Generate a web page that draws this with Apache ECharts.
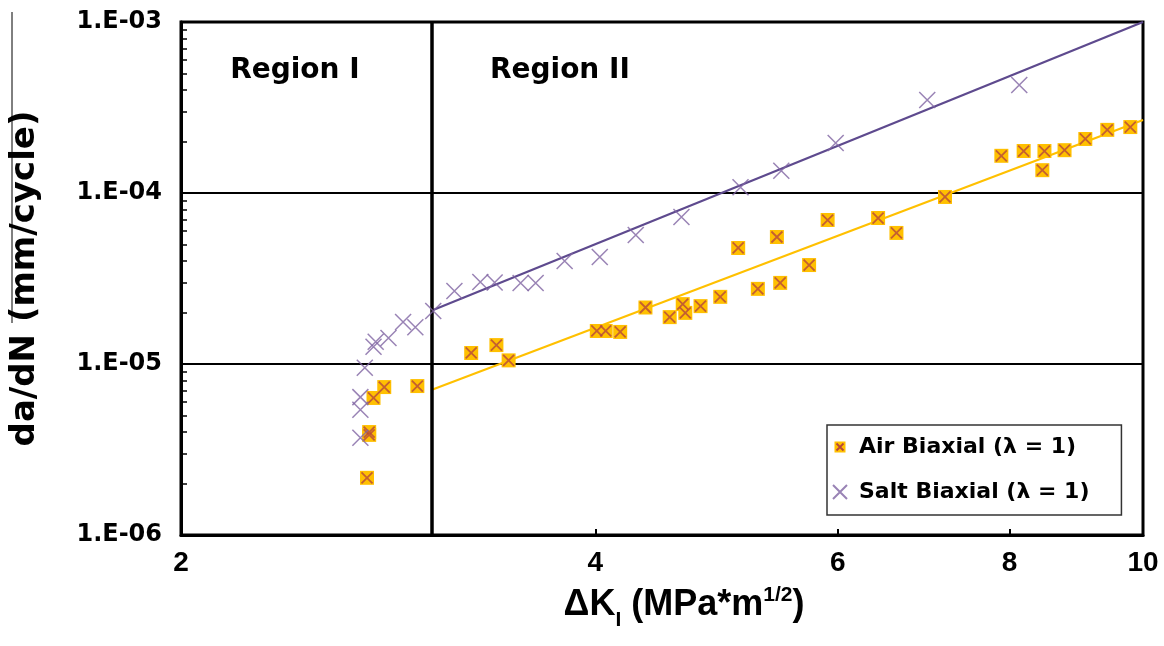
<!DOCTYPE html>
<html><head><meta charset="utf-8">
<script src="https://cdn.jsdelivr.net/npm/echarts@6/dist/echarts.min.js"></script>
<style>html,body{margin:0;padding:0;background:#fff}#chart{width:1164px;height:646px}</style>
</head><body><div id="chart"></div>
<script>
// ---- axis ticks / labels ----
const xTickValues = [2, 4, 6, 8, 10];
const xTickLabels = ['2', '4', '6', '8', '10'];
const xInnerTicks = [4, 6, 8];
const yTickValues = [1e-6, 1e-5, 1e-4, 1e-3];
const yTickLabels = ['1.E-06', '1.E-05', '1.E-04', '1.E-03'];
const yMinorMantissas = [2, 3, 4, 5, 6, 7, 8, 9];

// ---- series ----
const airName = 'Air Biaxial (\u03bb = 1)';
const saltName = 'Salt Biaxial (\u03bb = 1)';
const airDK   = [2.73, 2.74, 2.74, 2.76, 2.81, 2.97, 3.25, 3.39, 3.46, 4.01, 4.07, 4.17, 4.35, 4.53, 4.63, 4.65, 4.77, 4.93, 5.08, 5.25, 5.42, 5.45, 5.72, 5.90, 6.42, 6.62, 7.18, 7.89, 8.19, 8.45, 8.48, 8.77, 9.08, 9.42, 9.79];
const airRate = [2.16e-6, 4.0e-6, 3.85e-6, 6.33e-6, 7.33e-6, 7.43e-6, 1.16e-5, 1.29e-5, 1.05e-5, 1.56e-5, 1.56e-5, 1.54e-5, 2.14e-5, 1.88e-5, 2.24e-5, 1.99e-5, 2.18e-5, 2.47e-5, 4.77e-5, 2.75e-5, 5.53e-5, 2.98e-5, 3.79e-5, 6.95e-5, 7.14e-5, 5.84e-5, 9.48e-5, 1.65e-4, 1.76e-4, 1.36e-4, 1.76e-4, 1.78e-4, 2.07e-4, 2.34e-4, 2.43e-4];
const saltDK   = [2.70, 2.70, 2.70, 2.72, 2.76, 2.77, 2.83, 2.90, 2.96, 3.05, 3.16, 3.30, 3.38, 3.53, 3.62, 3.80, 4.03, 4.28, 4.62, 5.10, 5.46, 5.98, 6.97, 8.13];
const saltRate = [3.7e-6, 5.4e-6, 6.4e-6, 9.5e-6, 1.26e-5, 1.35e-5, 1.42e-5, 1.76e-5, 1.64e-5, 2.04e-5, 2.67e-5, 3.02e-5, 3.0e-5, 2.98e-5, 2.98e-5, 4.0e-5, 4.22e-5, 5.68e-5, 7.24e-5, 1.08e-4, 1.35e-4, 1.96e-4, 3.5e-4, 4.28e-4];
const airFitDK = [3.04, 10];
const airFitRate = [7.05e-6, 2.67e-4];
const saltFitDK = [3.04, 10];
const saltFitRate = [2.05e-5, 1.0e-3];
const regionBoundaryDK = 3.04;
const regionNames = ['Region I', 'Region II'];
const regionLabelDK = [2.42, 3.77];
const regionLabelRate = [5.2e-4, 5.2e-4];

// ---- helpers ----
const yMinorTicks = [];
for (let i = 0; i < yTickValues.length - 1; i++) {
  yMinorMantissas.forEach(m => yMinorTicks.push(m * yTickValues[i]));
}
function pairs(xs, ys) { return xs.map((x, i) => [x, ys[i]]); }
function nearestLabel(v, vals, labels) {
  let best = 0;
  vals.forEach((t, i) => { if (Math.abs(Math.log(t) - Math.log(v)) < Math.abs(Math.log(vals[best]) - Math.log(v))) best = i; });
  return labels[best];
}
const BOLD = "'DejaVu Sans', sans-serif";
const ARIAL = "'Liberation Sans', Arial, sans-serif";
const NARROW = "'Liberation Sans Narrow', 'Liberation Sans', Arial, sans-serif";
const X_PATH = 'path://M0,0L10,10M10,0L0,10';
const AIR_GOLD = '#FFC000';
const AIR_X = '#B5463C';
const SALT = '#8064A2';
const SALT_LINE = '#5E4A8E';
const airIcon = 'image://data:image/svg+xml;charset=utf-8,' + encodeURIComponent(
  '<svg xmlns="http://www.w3.org/2000/svg" width="14" height="14"><rect x="1.5" y="1.5" width="11" height="11" fill="' + AIR_GOLD + '"/><path d="M3.5 3.5L10.5 10.5M10.5 3.5L3.5 10.5" stroke="' + AIR_X + '" stroke-width="1.8"/></svg>');

const chart = echarts.init(document.getElementById('chart'), null, { renderer: 'canvas' });
chart.setOption({
  animation: false,
  backgroundColor: '#fff',
  grid: { left: 179, right: 21, top: 22, bottom: 111, show: true, borderColor: '#000', borderWidth: 3, backgroundColor: 'transparent' },
  legend: {
    orient: 'vertical', left: 827, top: 425,
    data: [{ name: airName, icon: airIcon }, { name: saltName, icon: X_PATH }],
    itemWidth: 14, itemHeight: 14, itemGap: 21,
    padding: [10, 32, 11, 5],
    borderColor: '#333', borderWidth: 1.5, backgroundColor: '#fff',
    textStyle: { fontFamily: BOLD, fontWeight: 'bold', fontSize: 22, color: '#000', lineHeight: 24, padding: [0, 0, 0, 7] },
    selectedMode: false
  },
  xAxis: {
    type: 'log', logBase: 10, min: 2, max: 10,
    name: '{a|\u0394K}{s|I}{a| (MPa*m}{p|1/2}{a|)}',
    nameLocation: 'middle', nameGap: 48,
    nameTextStyle: {
      padding: [0, 0, 0, 44],
      rich: {
        a: { fontFamily: ARIAL, fontWeight: 'bold', fontSize: 36, color: '#000', lineHeight: 44, verticalAlign: 'middle' },
        s: { fontFamily: ARIAL, fontWeight: 'bold', fontSize: 21, color: '#000', lineHeight: 44, verticalAlign: 'bottom', padding: [0, 0, -4, 0] },
        p: { fontFamily: ARIAL, fontWeight: 'bold', fontSize: 21, color: '#000', lineHeight: 44, verticalAlign: 'top', padding: [2, 0, 0, 0] }
      }
    },
    axisLine: { show: true, lineStyle: { color: '#000', width: 3 } },
    axisTick: { show: true, inside: true, length: 6, customValues: xInnerTicks, lineStyle: { color: '#000', width: 2 } },
    axisLabel: {
      show: true, customValues: xTickValues, margin: 14,
      formatter: v => nearestLabel(v, xTickValues, xTickLabels),
      fontFamily: NARROW, fontWeight: 'bold', fontSize: 28, color: '#000'
    },
    splitLine: { show: false },
    minorTick: { show: false }
  },
  yAxis: [
    {
      type: 'log', logBase: 10, min: 1e-6, max: 1e-3, position: 'left',
      name: 'da/dN (mm/cycle)', nameLocation: 'middle', nameGap: 139,
      nameTextStyle: { fontFamily: BOLD, fontWeight: 'bold', fontSize: 34, color: '#000' },
      axisLine: { show: true, lineStyle: { color: '#000', width: 3 } },
      axisTick: { show: false },
      axisLabel: {
        margin: 19,
        formatter: v => nearestLabel(v, yTickValues, yTickLabels),
        fontFamily: BOLD, fontWeight: 'bold', fontSize: 24, color: '#000'
      },
      splitLine: { show: true, lineStyle: { color: '#000', width: 2 } }
    },
    {
      type: 'log', logBase: 10, min: 1e-6, max: 1e-3, position: 'left', offset: 0,
      axisLine: { show: false },
      axisTick: { show: true, inside: true, length: 6, customValues: yMinorTicks, lineStyle: { color: '#000', width: 1.5 } },
      axisLabel: { show: false },
      splitLine: { show: false }
    }
  ],
  graphic: [
    { type: 'line', shape: { x1: 12, y1: 12, x2: 12, y2: 323 }, style: { stroke: '#000', lineWidth: 1 }, silent: true }
  ],
  series: [
    {
      name: 'Air fit', type: 'line', data: pairs(airFitDK, airFitRate), showSymbol: false, symbol: 'none',
      lineStyle: { color: AIR_GOLD, width: 2.2 }, z: 2, silent: true,
      markLine: {
        silent: true, symbol: 'none', label: { show: false },
        lineStyle: { color: '#000', width: 3.5, type: 'solid' },
        data: [{ xAxis: regionBoundaryDK }]
      }
    },
    {
      name: 'Salt fit', type: 'line', data: pairs(saltFitDK, saltFitRate), showSymbol: false, symbol: 'none',
      lineStyle: { color: SALT_LINE, width: 2.2 }, z: 2, silent: true,
      markPoint: {
        silent: true, symbol: 'circle', symbolSize: 0,
        label: { show: true, position: 'inside', formatter: '{b}', fontFamily: BOLD, fontWeight: 'bold', fontSize: 28, color: '#000' },
        data: regionNames.map((n, i) => ({ name: n, coord: [regionLabelDK[i], regionLabelRate[i]] }))
      }
    },
    {
      name: airName, type: 'scatter', data: pairs(airDK, airRate), symbol: 'rect', symbolSize: 14,
      itemStyle: { color: AIR_GOLD, opacity: 1 }, z: 3
    },
    {
      name: airName, type: 'scatter', data: pairs(airDK, airRate), symbol: X_PATH, symbolSize: 11,
      itemStyle: { color: 'rgba(0,0,0,0)', borderColor: AIR_X, borderWidth: 1.8 }, z: 4
    },
    {
      name: saltName, type: 'scatter', data: pairs(saltDK, saltRate), symbol: X_PATH, symbolSize: 16,
      itemStyle: { color: 'rgba(0,0,0,0)', borderColor: SALT, borderWidth: 1.5 }, z: 5
    }
  ]
});
</script></body></html>
